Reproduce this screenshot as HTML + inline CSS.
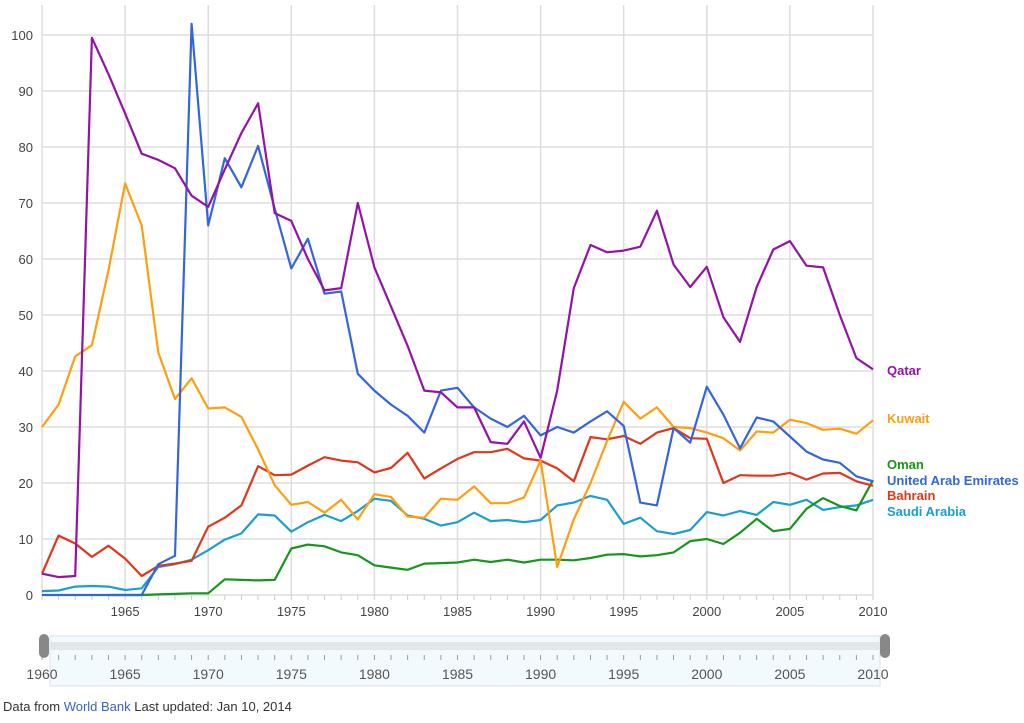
<!DOCTYPE html>
<html><head><meta charset="utf-8"><style>
body{margin:0;background:#fff;font-family:"Liberation Sans",sans-serif;}
svg text{font-family:"Liberation Sans",sans-serif;}
</style></head><body>
<svg id="c" width="1024" height="718"></svg>
<script>
const years=[];for(let y=1960;y<=2010;y++)years.push(y);
const qatar=[3.8,3.2,3.4,99.5,93,86,78.8,77.7,76.2,71.3,69.3,76,82.5,87.8,68.2,66.8,60,54.4,54.8,70,58.5,51.5,44.5,36.5,36.2,33.5,33.5,27.3,27,31,24.5,36.5,54.8,62.5,61.2,61.5,62.2,68.6,59,55,58.6,49.6,45.2,55,61.7,63.2,58.8,58.5,50,42.3,40.3];
const uae=[0,0,0,0,0,0,0,5.5,7,102,66,78,72.8,80.2,69,58.3,63.6,53.8,54.2,39.5,36.5,34,32,29,36.5,37,33.5,31.5,30,32,28.5,30,29,31,32.8,30.2,16.5,16,29.8,27.2,37.2,32.2,26.2,31.7,31,28.3,25.6,24.2,23.6,21.2,20.3];
const kuwait=[30,34,42.6,44.6,58,73.5,66,43.3,35,38.7,33.3,33.5,31.8,26,19.6,16.1,16.6,14.7,17,13.5,18,17.5,14,13.8,17.2,17,19.4,16.4,16.4,17.4,24,5,13.5,20,27.5,34.5,31.5,33.5,30,29.8,29,28,25.8,29.2,29,31.3,30.7,29.5,29.7,28.8,31.2];
const bahrain=[3.8,10.6,9.2,6.8,8.8,6.5,3.4,5.2,5.6,6.1,12.2,13.8,16,23,21.4,21.5,23.1,24.6,24,23.7,21.9,22.7,25.4,20.8,22.6,24.3,25.5,25.5,26.1,24.4,24,22.6,20.3,28.2,27.8,28.4,27,29,29.8,28,27.9,20,21.4,21.3,21.3,21.8,20.6,21.7,21.8,20.3,19.5];
const saudi=[0.7,0.8,1.5,1.6,1.5,0.9,1.2,5,5.5,6.3,8,9.9,11,14.4,14.2,11.3,13,14.3,13.2,15,17.2,16.8,14.2,13.6,12.4,13,14.7,13.2,13.4,13,13.4,16,16.5,17.7,17,12.7,13.8,11.4,10.9,11.6,14.8,14.2,15,14.3,16.6,16.1,17,15.2,15.7,16,17];
const oman=[null,null,null,null,0,0,0,0.1,0.2,0.3,0.3,2.8,2.7,2.6,2.7,8.3,9,8.7,7.6,7.1,5.3,4.9,4.5,5.6,5.7,5.8,6.3,5.9,6.3,5.8,6.3,6.3,6.2,6.6,7.2,7.3,6.9,7.1,7.6,9.6,10,9.1,11.1,13.6,11.4,11.8,15.4,17.3,15.9,15.1,20.5];
const yTicks=[0,10,20,30,40,50,60,70,80,90,100];
const xTicks=[1965,1970,1975,1980,1985,1990,1995,2000,2005,2010];
const sliderTicks=[1960,1965,1970,1975,1980,1985,1990,1995,2000,2005,2010];
const X0=42,X1=873,Y0=595,YS=5.6;
const xs=y=>X0+(y-1960)*(X1-X0)/50, ys=v=>Y0-v*YS;
const svg=document.getElementById('c');const NS='http://www.w3.org/2000/svg';
function mk(t,a,p){const e=document.createElementNS(NS,t);for(const k in a)e.setAttribute(k,a[k]);(p||svg).appendChild(e);return e;}
let e;
yTicks.forEach(v=>{
 e=mk('line',{x1:X0,x2:X1,y1:ys(v),y2:ys(v),stroke:'#ddd','stroke-width':1.5});
 
 e=mk('text',{x:33,y:ys(v)+5,'text-anchor':'end','font-size':13,fill:'#444'});e.textContent=v;
 
});
[1960].concat(xTicks).forEach(y=>{
 e=mk('line',{x1:xs(y),x2:xs(y),y1:5,y2:Y0,stroke:'#ddd','stroke-width':1.5});
 
});
years.forEach(y=>{e=mk('line',{x1:xs(y),x2:xs(y),y1:Y0,y2:Y0+5,stroke:'#ccc'});
 });
xTicks.forEach(y=>{
 e=mk('text',{x:xs(y),y:616,'text-anchor':'middle','font-size':13,fill:'#444'});e.textContent=y;
 
});
const series=[['saudi-arabia-line',saudi,'#1a9fd0'],['oman-line',oman,'#16961a'],['bahrain-line',bahrain,'#e0361a'],['kuwait-line',kuwait,'#ff9e0f'],['uae-line',uae,'#3366dd'],['qatar-line',qatar,'#9512a8']];
series.forEach(([n,d,c])=>{
 let p='',pen=false;d.forEach((v,i)=>{if(v==null){pen=false;return;}p+=(pen?'L':'M')+xs(years[i]).toFixed(1)+','+ys(v).toFixed(1);pen=true;});
 e=mk('path',{d:p,fill:'none',stroke:c,'stroke-width':2.2,'stroke-linejoin':'round'});
 
});
const legend=[['Qatar',375,'#9512a8'],['Kuwait',423,'#ff9e0f'],['Oman',469,'#16961a'],['United Arab Emirates',485,'#3366dd'],['Bahrain',500,'#e0361a'],['Saudi Arabia',516,'#1a9fd0']];
legend.forEach(([t,y,c])=>{e=mk('text',{x:887,y:y,'font-size':13,'font-weight':'bold',fill:c});e.textContent=t;
 });
// slider
e=mk('rect',{x:50,y:636,width:830,height:50,fill:'#f3fafd',stroke:'#dde'});
e=mk('rect',{x:50,y:642,width:830,height:8,fill:'#e2e8ea'});
years.forEach(y=>{e=mk('line',{x1:xs(y)+8*(1-(y-1960)/50)*0,x2:xs(y),y1:655,y2:660,stroke:'#999'});
 });
sliderTicks.forEach(y=>{e=mk('text',{x:xs(y),y:679,'text-anchor':'middle','font-size':14,fill:'#555'});e.textContent=y;
 });
e=mk('rect',{x:39,y:634,width:10,height:24,rx:5,fill:'#888'});
e=mk('rect',{x:880,y:634,width:10,height:24,rx:5,fill:'#888'});
e=mk('text',{x:3,y:711,'font-size':13,fill:'#333'});
e.innerHTML='Data from <tspan fill="#3366cc">World Bank</tspan>    Last updated: Jan 10, 2014';
e.setAttribute('xml:space','preserve');
</script>
</body></html>
